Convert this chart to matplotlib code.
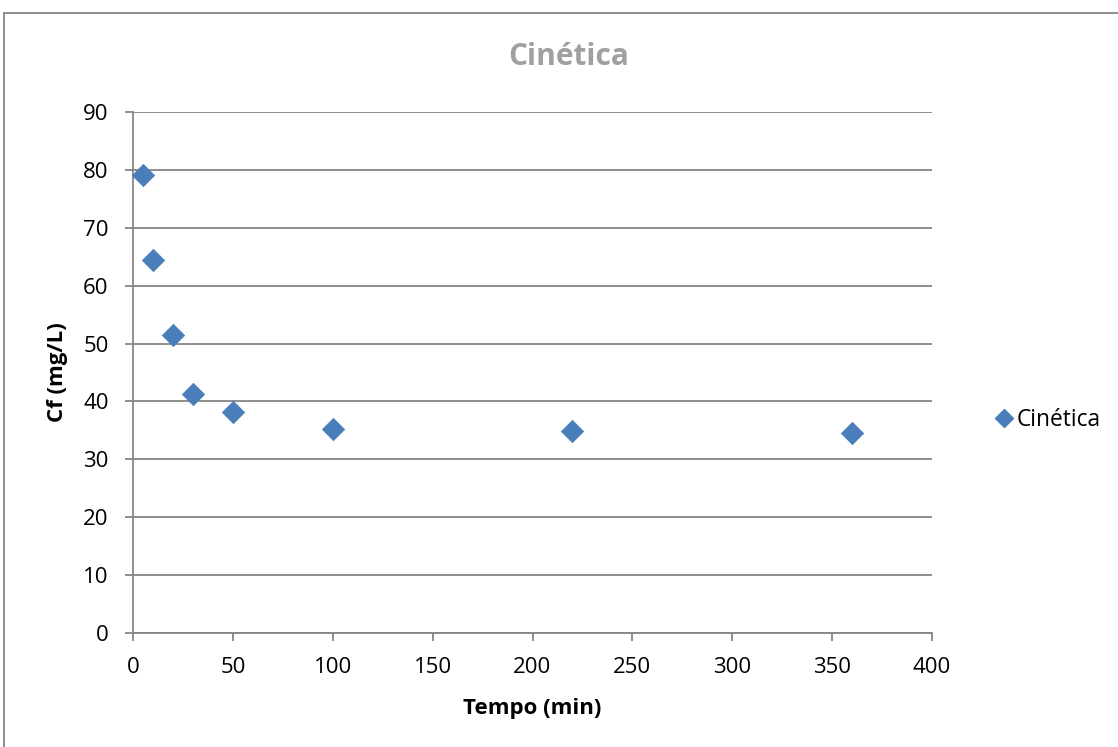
import matplotlib
matplotlib.use("Agg")
import matplotlib.pyplot as plt
from matplotlib.lines import Line2D

# Kinetic data: residual concentration versus contact time
tempo_min = [5, 10, 20, 30, 50, 100, 220, 360]
cf_mg_l = [79.1, 64.5, 51.5, 41.3, 38.1, 35.2, 34.9, 34.5]

x_ticks = [0, 50, 100, 150, 200, 250, 300, 350, 400]
y_ticks = [0, 10, 20, 30, 40, 50, 60, 70, 80, 90]

plt.rcParams['font.family'] = ['Open Sans', 'DejaVu Sans']

W, H = 1118, 747
fig = plt.figure(figsize=(W / 100, H / 100), dpi=100)

# Axes box in pixel coordinates
left, right, top, bottom = 133, 932, 112, 633
ax = fig.add_axes([left / W, 1 - bottom / H, (right - left) / W, (bottom - top) / H])

grid_c = '#868686'
ax.scatter(tempo_min, cf_mg_l, marker='D', s=130, color='#4a7ebb',
           edgecolors='#4a7ebb', linewidths=0.5, zorder=3, label='Cinética',
           clip_on=False)

ax.set_xlim(0, 400)
ax.set_ylim(0, 90)
ax.set_xticks(x_ticks)
ax.set_yticks(y_ticks)
ax.yaxis.grid(True, color=grid_c, linewidth=1.3)
ax.set_axisbelow(True)
for s in ['top', 'right']:
    ax.spines[s].set_visible(False)
for s in ['left', 'bottom']:
    ax.spines[s].set_color(grid_c)
    ax.spines[s].set_linewidth(1.3)
ax.tick_params(axis='both', direction='out', length=6, width=1.3, color=grid_c,
               labelsize=16, labelcolor='black')
ax.tick_params(axis='x', pad=11)
ax.tick_params(axis='y', pad=11.5)

ax.set_xlabel('Tempo (min)', fontsize=16, fontweight='bold', labelpad=15)
ax.set_ylabel('Cf (mg/L)', fontsize=16, fontweight='bold', labelpad=11)

fig.text(569 / W, 1 - 57 / H, 'Cinética', ha='center', va='center',
         fontsize=21.5, fontweight='bold', color='#a0a0a0')

leg = fig.legend(handles=[Line2D([], [], marker='D', linestyle='none',
                                 color='#4a7ebb', markersize=9.5)],
                 labels=['Cinética'], loc='center left',
                 bbox_to_anchor=(981 / W, 1 - 420 / H), frameon=False,
                 fontsize=16.4, handletextpad=0.05, borderpad=0, handlelength=1.0)

# Chart-area border
fig.add_artist(Line2D([4 / W, 4 / W], [0, 1 - 13 / H], transform=fig.transFigure,
                      color=grid_c, linewidth=1.3))
fig.add_artist(Line2D([4 / W, 1], [1 - 13 / H, 1 - 13 / H], transform=fig.transFigure,
                      color=grid_c, linewidth=1.3))

fig.savefig('out.png', dpi=100, facecolor='white')
